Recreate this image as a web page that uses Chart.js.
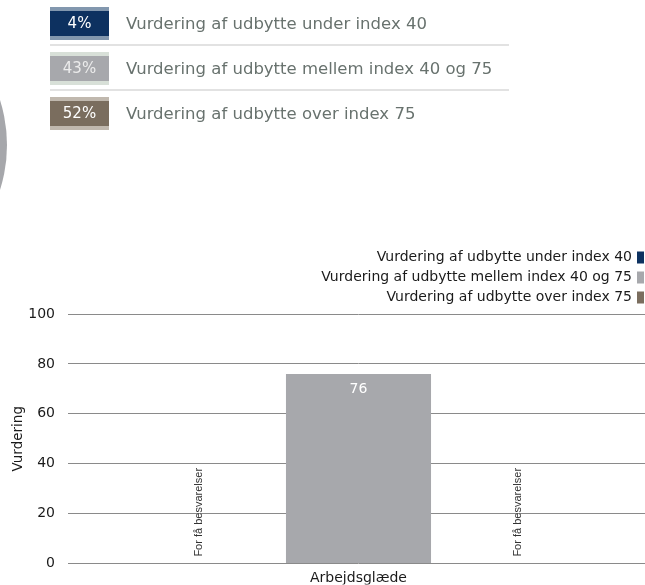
<!DOCTYPE html>
<html>
<head>
<meta charset="utf-8">
<script src="https://cdn.jsdelivr.net/npm/chart.js@4.4.1/dist/chart.umd.min.js"></script>
<style>
  html, body { margin: 0; padding: 0; width: 645px; height: 585px; overflow: hidden; background: #ffffff; }
  #summary { position: absolute; left: 0; top: 0; width: 645px; height: 140px; font-family: "DejaVu Sans", sans-serif; z-index: 2; }
  .row { position: absolute; left: 50px; height: 33px; }
  .box { position: absolute; left: 0; top: 0; width: 59px; height: 33px; box-sizing: border-box; border-top: 4px solid; border-bottom: 4px solid; font-size: 15px; line-height: 25px; text-align: center; }
  .lbl { position: absolute; left: 76px; top: 0; height: 33px; line-height: 33px; font-size: 16.5px; color: #68726e; white-space: nowrap; }
  .sep { position: absolute; left: 50px; width: 459px; height: 2px; background: #e2e2e2; }
  #ring { position: absolute; left: -289px; top: -3px; width: 296px; height: 296px; border-radius: 50%; background: #a6a7ab; }
  #c { position: absolute; left: 0; top: 0; z-index: 1; }
</style>
</head>
<body>
<div id="ring"></div>
<div id="summary"></div>
<canvas id="c" width="649" height="585"></canvas>
<script>
// ---- data ----
const categories = ['Arbejdsglæde'];
const seriesLabels = [
  'Vurdering af udbytte under index 40',
  'Vurdering af udbytte mellem index 40 og 75',
  'Vurdering af udbytte over index 75'
];
const underValues = [null];
const mellemValues = [76];
const overValues = [null];
const summaryPercents = [4, 43, 52];
const yTickValues = [0, 20, 40, 60, 80, 100];
const yTitle = 'Vurdering';
const missingText = 'For få besvarelser';

// ---- styles ----
const seriesColors = ['#0d3160', '#a7a8ac', '#7a6d5e'];
const stripeColors = ['#8297ae', '#d8e0d8', '#c0b8ae'];
const pctTextColors = ['#ffffff', '#ececec', '#ffffff'];

// summary block (HTML)
const summary = document.getElementById('summary');
summaryPercents.forEach((p, i) => {
  const top = 7 + i * 45;
  const row = document.createElement('div');
  row.className = 'row';
  row.style.top = top + 'px';
  const box = document.createElement('div');
  box.className = 'box';
  box.style.background = seriesColors[i];
  box.style.borderColor = stripeColors[i];
  box.style.color = pctTextColors[i];
  box.textContent = p + '%';
  const lbl = document.createElement('div');
  lbl.className = 'lbl';
  lbl.textContent = seriesLabels[i];
  row.appendChild(box);
  row.appendChild(lbl);
  summary.appendChild(row);
  if (i < summaryPercents.length - 1) {
    const sep = document.createElement('div');
    sep.className = 'sep';
    sep.style.top = (top + 37) + 'px';
    summary.appendChild(sep);
  }
});

const FONT = '"DejaVu Sans", sans-serif';

const rightLegend = {
  id: 'rightLegend',
  afterDraw(chart) {
    const ctx = chart.ctx;
    const top = chart.chartArea.top;
    ctx.save();
    ctx.font = '14px ' + FONT;
    ctx.textAlign = 'right';
    ctx.textBaseline = 'middle';
    chart.data.datasets.forEach((ds, i) => {
      const cy = top - 56.5 + i * 20;
      ctx.fillStyle = '#1a1a1a';
      ctx.fillText(ds.label, 632, cy);
      ctx.fillStyle = ds.backgroundColor;
      ctx.fillRect(637, cy - 6, 7, 12);
    });
    ctx.restore();
  }
};

const barLabels = {
  id: 'barLabels',
  afterDatasetsDraw(chart) {
    const ctx = chart.ctx;
    const yScale = chart.scales.y;
    const zeroY = yScale.getPixelForValue(0);
    ctx.save();
    chart.data.datasets.forEach((ds, di) => {
      const meta = chart.getDatasetMeta(di);
      ds.data.forEach((v, idx) => {
        const el = meta.data[idx];
        if (!el) return;
        if (v === null || v === undefined) {
          ctx.save();
          ctx.translate(el.x, zeroY - 7);
          ctx.rotate(-Math.PI / 2);
          ctx.font = '11px "Liberation Sans", Arial, sans-serif';
          ctx.fillStyle = '#333333';
          ctx.textAlign = 'left';
          ctx.textBaseline = 'middle';
          ctx.fillText(missingText, 0, 0);
          ctx.restore();
        } else {
          ctx.font = '14px ' + FONT;
          ctx.fillStyle = '#ffffff';
          ctx.textAlign = 'center';
          ctx.textBaseline = 'middle';
          ctx.fillText(String(v), el.x, el.y + 15.5);
        }
      });
    });
    ctx.restore();
  }
};

new Chart(document.getElementById('c'), {
  type: 'bar',
  data: {
    labels: categories,
    datasets: [
      { label: seriesLabels[0], data: underValues, backgroundColor: seriesColors[0] },
      { label: seriesLabels[1], data: mellemValues, backgroundColor: seriesColors[1] },
      { label: seriesLabels[2], data: overValues, backgroundColor: seriesColors[2] }
    ]
  },
  options: {
    responsive: false,
    devicePixelRatio: 1,
    animation: false,
    categoryPercentage: 0.824,
    barPercentage: 0.909,
    layout: { padding: { top: 314, right: 0, bottom: 0, left: 0 } },
    plugins: { legend: { display: false }, tooltip: { enabled: false } },
    scales: {
      x: {
        grid: { display: false, drawTicks: false },
        border: { display: false },
        ticks: { padding: 6, color: '#1a1a1a', font: { family: FONT, size: 14 } },
        afterFit: s => { s.height = 21; }
      },
      y: {
        min: 0,
        max: 100,
        afterBuildTicks: s => { s.ticks = yTickValues.map(v => ({ value: v })); },
        grid: { color: '#8a8a8a', lineWidth: 1, drawTicks: false },
        border: { display: false },
        ticks: { padding: 13, color: '#1a1a1a', font: { family: FONT, size: 14 } },
        title: { display: true, text: yTitle, color: '#1a1a1a', font: { family: FONT, size: 13.5 }, padding: { top: 10, bottom: 0 } },
        afterFit: s => { s.width = 68; }
      }
    }
  },
  plugins: [rightLegend, barLabels]
});
</script>
</body>
</html>
